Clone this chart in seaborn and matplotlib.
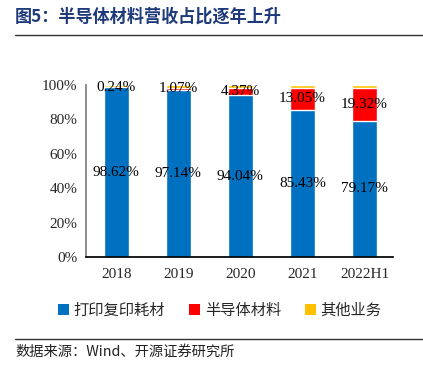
import matplotlib
matplotlib.use("Agg")
import matplotlib.pyplot as plt
import seaborn as sns
import pandas as pd
import numpy as np
from matplotlib.patches import Patch

sns.set_theme(style="white")
plt.rcParams['font.family'] = ['Liberation Serif', 'Noto Sans CJK SC']

categories = ["2018", "2019", "2020", "2021", "2022H1"]
printing = [98.62, 97.14, 94.04, 85.43, 79.17]
semi = [0.24, 1.07, 4.37, 13.05, 19.32]
other = [1.14, 1.79, 1.59, 1.52, 1.51]
series_names = ["打印复印耗材", "半导体材料", "其他业务"]
colors = ["#0070C0", "#FF0000", "#FFC000"]
yticks = [0, 20, 40, 60, 80, 100]

fig = plt.figure(figsize=(4.23, 3.69), dpi=100)
ax = fig.add_axes([86/423, 1-257/369, (393-86)/423, (257-85)/369])

p = np.array(printing)
s = np.array(semi)
o = np.array(other)
df = pd.DataFrame({"cat": categories, "p": p, "ps": p + s, "pso": p + s + o})

sns.barplot(data=df, x="cat", y="pso", color=colors[2], width=0.4, ax=ax, saturation=1)
sns.barplot(data=df, x="cat", y="ps", color=colors[1], width=0.4, ax=ax, saturation=1)
sns.barplot(data=df, x="cat", y="p", color=colors[0], width=0.4, ax=ax, saturation=1)

for i in range(len(categories)):
    ax.text(i, p[i] / 2, f"{printing[i]:.2f}%", ha="center", va="center",
            fontsize=11, color="black")
    ax.text(i, p[i] + s[i] / 2, f"{semi[i]:.2f}%", ha="center", va="center",
            fontsize=11, color="black")

ax.set_xlim(-0.49, 4.46)
ax.set_ylim(0, 100)
ax.set_yticks(yticks)
ax.set_yticklabels([f"{v}%" for v in yticks], fontsize=11)
ax.set_xticks(range(len(categories)))
ax.set_xticklabels(categories, fontsize=11)
ax.set_xlabel("")
ax.set_ylabel("")
ax.tick_params(axis="x", length=0, pad=8)
ax.set_xticks([0.5, 1.5, 2.5, 3.5], minor=True)
ax.tick_params(axis="x", which="minor", direction="in", length=4, color="#404040")
ax.tick_params(axis="y", direction="in", length=4, color="#808080", pad=6)
for side in ["top", "right"]:
    ax.spines[side].set_visible(False)
ax.spines["left"].set_color("#808080")
ax.spines["bottom"].set_color("black")
ax.grid(False)

handles = [Patch(facecolor=c, edgecolor="none") for c in colors]
fig.legend(handles, series_names, loc="center", bbox_to_anchor=(220/423, 1-310/369),
           ncol=3, frameon=False, handlelength=0.7, handleheight=0.7,
           handletextpad=0.3, columnspacing=1.6,
           prop={"family": ["Noto Sans CJK SC"], "size": 11})

fig.text(15/423, 1-17/369, "图5：半导体材料营收占比逐年上升", fontsize=12.3, fontweight="bold",
         color="#1F3A7A", va="center", ha="left", family=["Noto Sans CJK SC"])
fig.add_artist(plt.Line2D([15/423, 1.0], [1-35/369, 1-35/369], color="#333333", lw=1))
fig.add_artist(plt.Line2D([15/423, 1.0], [1-339/369, 1-339/369], color="#333333", lw=1))
fig.text(15/423, 1-352/369, "数据来源：Wind、开源证券研究所", fontsize=10.3,
         color="#222222", va="center", ha="left", family=["Noto Sans CJK SC", "Liberation Serif"])

fig.savefig("out.png", dpi=100)
